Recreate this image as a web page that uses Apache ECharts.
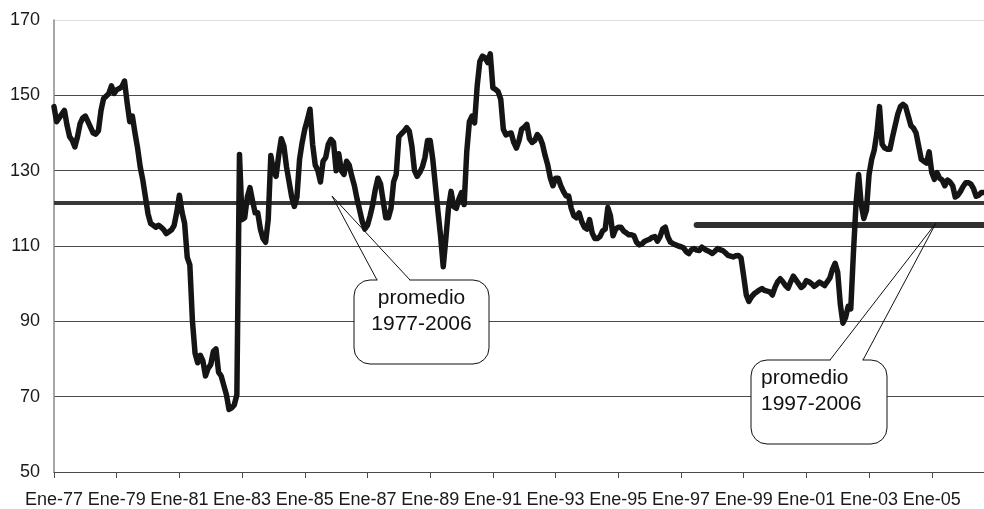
<!DOCTYPE html>
<html>
<head>
<meta charset="utf-8">
<script src="https://cdn.jsdelivr.net/npm/echarts@6/dist/echarts.min.js"></script>
<style>
  html, body { margin: 0; padding: 0; background: #ffffff; }
  #chart { width: 984px; height: 509px; }
</style>
</head>
<body>
<div id="chart"></div>
<script>
// Índice mensual, enero 1977 a septiembre 2006
const meses = ['Ene', 'Feb', 'Mar', 'Abr', 'May', 'Jun', 'Jul', 'Ago', 'Sep', 'Oct', 'Nov', 'Dic'];
const anioInicial = 1977;

const indice1977a1986 = [
  147, 143, 144, 145, 146, 142, 139, 138, 136.3, 139, 142.5, 144,            // 1977
  144.5, 143, 141.5, 140, 139.7, 140.6, 146, 149.2, 149.8, 150.5, 152.5, 150.5, // 1978
  151.5, 151.8, 152.3, 153.8, 148, 143, 144.5, 140, 136, 131, 127.5, 123,   // 1979
  118.5, 116, 115.5, 115, 115.5, 115, 114.3, 113.3, 113.8, 114.3, 115.5, 119, // 1980
  123.5, 119, 116, 107, 105, 90, 81.5, 79, 81, 79.5, 75.5, 77.5,            // 1981
  78.5, 82, 82.7, 76.5, 75.5, 73, 70.5, 66.6, 67, 67.8, 70.5, 134.3,        // 1982
  117, 117.5, 123, 125.5, 122, 118.8, 118.8, 114.5, 112, 111, 117, 134,     // 1983
  130, 128.5, 134, 138.5, 136.5, 131, 127, 123, 120.5, 123, 133, 137.5,     // 1984
  141, 143.5, 146.3, 137, 131.5, 130, 127, 132.5, 133.5, 137, 138.3, 137.5, // 1985
  130, 134.5, 130, 129, 132.5, 131.5, 128.5, 126, 122.5, 119.5, 116.5, 114.5 // 1986
];

const indice1987a1996 = [
  115.5, 118, 121, 125, 128, 126.5, 122, 117.5, 117.5, 120, 127, 129,       // 1987
  139, 139.8, 140.5, 141.4, 140.5, 136.5, 130, 128.5, 129.5, 131, 133.5, 138, // 1988
  138, 133, 126, 119, 112.5, 104.5, 112, 120, 124.5, 120.5, 120, 122.5,     // 1989
  124.2, 121, 135, 143, 144.5, 142.7, 152.5, 159, 160.4, 160, 158.7, 161,   // 1990
  152, 151.6, 151, 149, 141, 139.5, 139.8, 140, 137.5, 136, 138, 141,       // 1991
  141.5, 142.3, 138.5, 137.5, 138, 139.6, 138.8, 137, 134, 131.5, 128, 126, // 1992
  128, 128, 126, 124.5, 123.3, 123.3, 120, 118, 117.5, 118.8, 116.5, 115,   // 1993
  114.5, 117, 113.5, 112, 112, 112.5, 114, 114.5, 120.2, 118, 112.7, 114.5, // 1994
  115, 115, 114, 113.5, 113, 113, 112.7, 111, 110.3, 110.5, 111.2, 111.5,   // 1995
  111.8, 112.3, 112.5, 111.3, 112.5, 114.5, 115, 112.4, 111, 110.6, 110.3, 110 // 1996
];

const indice1997a2006 = [
  109.8, 109.5, 108.5, 108, 109, 109.3, 108.9, 108.8, 109.7, 109.2, 108.8, 108.5, // 1997
  108, 108.6, 109.3, 109, 108.8, 108.2, 107.5, 107.3, 107.1, 107.4, 107.5, 106.8, // 1998
  102, 97, 95.3, 96.5, 97.3, 97.8, 98.3, 98.7, 98.2, 98, 97.8, 97,          // 1999
  99, 100.5, 101.3, 100.5, 99.5, 98.8, 100.5, 102, 101, 100, 99, 99.5,      // 2000
  100.8, 100.5, 100, 99.3, 99.8, 100.4, 100, 99.5, 100.5, 101.5, 103.8, 105.4, // 2001
  103, 94.5, 89.5, 91, 94, 93.3, 108, 121, 129, 121, 117.3, 119.5,          // 2002
  129, 133, 135.5, 140, 147, 137, 136, 135.7, 135.7, 139, 142, 145,         // 2003
  147, 147.6, 147, 144.5, 142, 141.3, 140, 136.5, 133, 132.5, 132, 135,     // 2004
  129.5, 127.7, 129.5, 128, 127.5, 126, 127.5, 127, 126, 123, 123.5, 124.5, // 2005
  125.8, 126.8, 126.8, 126.4, 125.2, 123.2, 123.5, 124.2, 124.2             // 2006
];

// Promedios de referencia
const promedio1977a2006 = 121.4;
const promedio1997a2006 = 115.6;
const inicioPromedio1997 = 'Jul-97';

// Eje vertical
const ejeYMin = 50;
const ejeYMax = 170;
const ejeYPaso = 20;

const indice = indice1977a1986.concat(indice1987a1996, indice1997a2006);
const categorias = indice.map(function (_, i) {
  const anio = anioInicial + Math.floor(i / 12);
  return meses[i % 12] + '-' + String(anio % 100).padStart(2, '0');
});

const fuente = '"Liberation Sans", Arial, sans-serif';
const chart = echarts.init(document.getElementById('chart'), null, { renderer: 'canvas' });

// Globo de texto: rectángulo redondeado con una cuña que sale del borde superior
function globo(caja, baseA, baseB, punta, texto, alinear) {
  const x0 = caja[0], y0 = caja[1], ancho = caja[2], alto = caja[3];
  const textoX = alinear === 'center' ? x0 + ancho / 2 : x0 + 10;
  return {
    type: 'group',
    z: 100,
    children: [
      { type: 'rect', z: 100, shape: { x: x0, y: y0, width: ancho, height: alto, r: 16 },
        style: { fill: '#ffffff', stroke: '#111111', lineWidth: 1 } },
      { type: 'line', z: 101, shape: { x1: baseA + 0.5, y1: y0, x2: baseB - 0.5, y2: y0 },
        style: { stroke: '#ffffff', lineWidth: 3 } },
      { type: 'polyline', z: 102, shape: { points: [[baseA, y0], punta, [baseB, y0]] },
        style: { fill: null, stroke: '#111111', lineWidth: 1 } },
      { type: 'text', z: 103, style: { text: texto, x: textoX, y: y0 + alto / 2 - 11, align: alinear,
        verticalAlign: 'middle', font: '21px ' + fuente, lineHeight: 26, fill: '#111111' } }
    ]
  };
}

chart.setOption({
  animation: false,
  backgroundColor: '#ffffff',
  grid: { left: 54, right: 0, top: 20, bottom: 36, containLabel: false },
  xAxis: {
    type: 'category',
    data: categorias,
    boundaryGap: false,
    axisLine: { show: true, lineStyle: { color: '#4a4a4a', width: 1 } },
    axisTick: { show: true, interval: 23, length: 6, lineStyle: { color: '#4a4a4a', width: 1 } },
    axisLabel: { interval: 23, fontSize: 18, color: '#1a1a1a', fontFamily: fuente, margin: 19 },
    splitLine: { show: false }
  },
  yAxis: {
    type: 'value',
    min: ejeYMin,
    max: ejeYMax,
    interval: ejeYPaso,
    axisLine: { show: true, lineStyle: { color: '#8a8a8a', width: 1.5 } },
    axisTick: { show: false },
    axisLabel: { fontSize: 18, color: '#1a1a1a', fontFamily: fuente, margin: 14 },
    splitLine: {
      show: true,
      lineStyle: {
        // la línea superior (170) va en gris claro, el resto en gris oscuro
        color: ['#dedede', '#4a4a4a', '#4a4a4a', '#4a4a4a', '#4a4a4a', '#4a4a4a', '#dedede'],
        width: 1
      }
    }
  },
  series: [
    {
      name: 'promedios',
      type: 'line',
      data: [],
      z: 1,
      markLine: {
        silent: true,
        symbol: ['none', 'none'],
        label: { show: false },
        data: [
          { yAxis: promedio1977a2006, lineStyle: { color: '#383838', width: 4, type: 'solid' } },
          [
            { coord: [categorias.indexOf(inicioPromedio1997), promedio1997a2006],
              lineStyle: { color: '#303030', width: 6, type: 'solid', cap: 'round' } },
            { coord: [categorias.length - 1, promedio1997a2006] }
          ]
        ]
      }
    },
    {
      name: 'índice',
      type: 'line',
      data: indice,
      z: 10,
      symbol: 'none',
      showSymbol: false,
      lineStyle: { color: '#151515', width: 5.5, join: 'round', cap: 'round' }
    }
  ],
  graphic: [
    globo([354, 280, 135, 84], 377, 410, [332, 196], 'promedio\n1977-2006', 'center'),
    globo([751, 360, 136, 84], 830, 863, [936, 223], 'promedio\n1997-2006', 'left')
  ]
});
</script>
</body>
</html>
